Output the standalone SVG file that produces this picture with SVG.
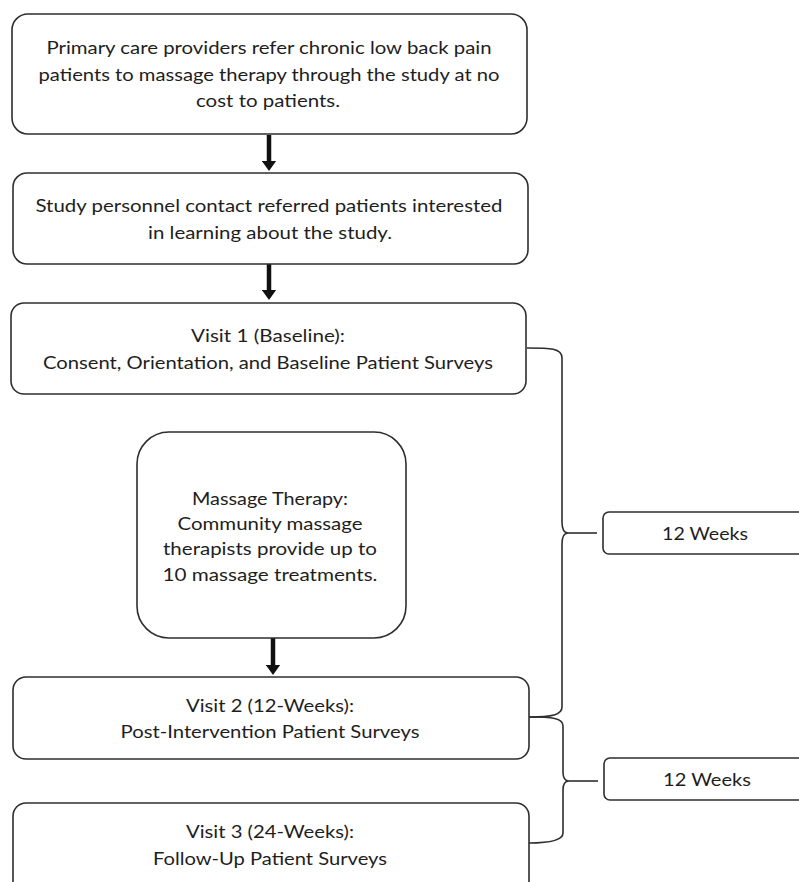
<svg xmlns="http://www.w3.org/2000/svg" width="799" height="882" viewBox="0 0 799 882">
  <style>
    .box { fill: #ffffff; stroke: #2e2e2e; stroke-width: 1.6; }
    .t { font-family: Lato, "Liberation Sans", sans-serif; font-size: 18px; fill: #1e1e1e; text-anchor: middle; }
    .brace { fill: none; stroke: #2e2e2e; stroke-width: 1.6; }
    .arrow { stroke: #111111; stroke-width: 4.5; fill: none; }
  </style>
  <defs>
    <marker id="ah" markerUnits="userSpaceOnUse" markerWidth="11" markerHeight="15" refX="0.5" refY="7.5" orient="auto">
      <path d="M0,0 L10.5,7.5 L0,15 Z" fill="#111111"/>
    </marker>
  </defs>
  <rect width="799" height="882" fill="#ffffff"/>

  <g id="connectors">
    <line class="arrow" x1="269" y1="135" x2="269" y2="161" marker-end="url(#ah)"/>
    <line class="arrow" x1="269" y1="264" x2="269" y2="290" marker-end="url(#ah)"/>
    <line class="arrow" x1="273" y1="638" x2="273" y2="665" marker-end="url(#ah)"/>
    <path class="brace" d="M527,348 C550,348 562,348 562,358 L562,522 C562,530 564,533 568,533 C564,533 562,536 562,544 L562,707 C562,715 552,717 529,717"/>
    <line class="brace" x1="568" y1="533" x2="597" y2="533"/>
    <path class="brace" d="M529,717 C552,717 563,718 563,726 L563,772 C563,778 565,781 569,781 C565,781 563,784 563,790 L563,833 C563,840 552,843 529,843"/>
    <line class="brace" x1="569" y1="781" x2="598" y2="781"/>
  </g>

  <g id="node-referral">
    <rect class="box" x="12" y="14" width="515" height="120" rx="16"/>
    <text class="t" x="269" y="54" textLength="445" lengthAdjust="spacingAndGlyphs">Primary care providers refer chronic low back pain</text>
    <text class="t" x="269" y="81" textLength="461" lengthAdjust="spacingAndGlyphs">patients to massage therapy through the study at no</text>
    <text class="t" x="268" y="107" textLength="144" lengthAdjust="spacingAndGlyphs">cost to patients.</text>
  </g>

  <g id="node-contact">
    <rect class="box" x="13" y="173" width="515" height="91" rx="14"/>
    <text class="t" x="269" y="212" textLength="467" lengthAdjust="spacingAndGlyphs">Study personnel contact referred patients interested</text>
    <text class="t" x="270" y="239" textLength="244" lengthAdjust="spacingAndGlyphs">in learning about the study.</text>
  </g>

  <g id="node-visit1">
    <rect class="box" x="11" y="303" width="515" height="91" rx="13"/>
    <text class="t" x="268" y="342" textLength="154" lengthAdjust="spacingAndGlyphs">Visit 1 (Baseline):</text>
    <text class="t" x="268" y="369" textLength="450" lengthAdjust="spacingAndGlyphs">Consent, Orientation, and Baseline Patient Surveys</text>
  </g>

  <g id="node-massage">
    <rect class="box" x="137" y="432" width="269" height="206" rx="32"/>
    <text class="t" x="270" y="505" textLength="156" lengthAdjust="spacingAndGlyphs">Massage Therapy:</text>
    <text class="t" x="270" y="530" textLength="185" lengthAdjust="spacingAndGlyphs">Community massage</text>
    <text class="t" x="270" y="555" textLength="214" lengthAdjust="spacingAndGlyphs">therapists provide up to</text>
    <text class="t" x="270" y="581" textLength="215" lengthAdjust="spacingAndGlyphs">10 massage treatments.</text>
  </g>

  <g id="node-visit2">
    <rect class="box" x="13" y="677" width="516" height="82" rx="13"/>
    <text class="t" x="270" y="712" textLength="168" lengthAdjust="spacingAndGlyphs">Visit 2 (12-Weeks):</text>
    <text class="t" x="270" y="738" textLength="299" lengthAdjust="spacingAndGlyphs">Post-Intervention Patient Surveys</text>
  </g>

  <g id="node-visit3">
    <rect class="box" x="13" y="803" width="516" height="100" rx="13"/>
    <text class="t" x="270" y="838" textLength="168" lengthAdjust="spacingAndGlyphs">Visit 3 (24-Weeks):</text>
    <text class="t" x="270" y="865" textLength="234" lengthAdjust="spacingAndGlyphs">Follow-Up Patient Surveys</text>
  </g>

  <g id="node-weeks1">
    <rect class="box" x="603" y="512" width="210" height="42" rx="6"/>
    <text class="t" x="705" y="540" textLength="86" lengthAdjust="spacingAndGlyphs">12 Weeks</text>
  </g>

  <g id="node-weeks2">
    <rect class="box" x="604" y="758" width="210" height="42" rx="6"/>
    <text class="t" x="707" y="786" textLength="88" lengthAdjust="spacingAndGlyphs">12 Weeks</text>
  </g>
</svg>
